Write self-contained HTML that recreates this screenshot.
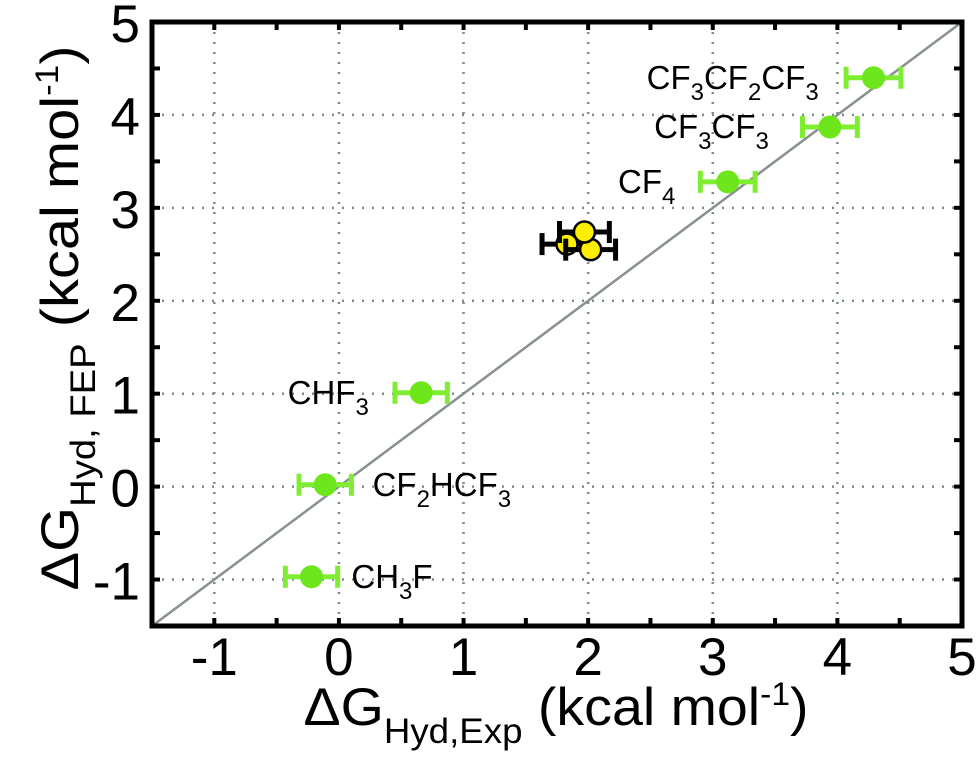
<!DOCTYPE html>
<html><head><meta charset="utf-8"><style>
body{margin:0;background:#fff}
svg{display:block;font-family:"Liberation Sans",Arial,sans-serif}
</style></head><body>
<svg id="chart" width="980" height="780" xmlns="http://www.w3.org/2000/svg"></svg>
<script>
const xTicks=[-1,0,1,2,3,4,5];
const yTicks=[-1,0,1,2,3,4,5];
const greenNames=["CH3F","CF2HCF3","CHF3","CF4","CF3CF3","CF3CF2CF3"];
const greenX=[-0.22,-0.11,0.66,3.12,3.94,4.29];
const greenY=[-0.97,0.02,1.01,3.28,3.87,4.40];
const greenErr=[0.21,0.21,0.21,0.22,0.22,0.22];
const yellowX=[1.83,2.02,1.97];
const yellowY=[2.61,2.55,2.74];
const yellowErr=[0.2,0.2,0.2];
const S='font-size="24" dy="11"', U='dy="-11"';
const labelsHTML=[
 {t:'CH<tspan '+S+'>3</tspan><tspan '+U+'>F</tspan>',x:0.1,y:-0.97,a:"start"},
 {t:'CF<tspan '+S+'>2</tspan><tspan '+U+'>HCF</tspan><tspan '+S+'>3</tspan>',x:0.27,y:0.02,a:"start"},
 {t:'CHF<tspan '+S+'>3</tspan>',x:0.24,y:1.01,a:"end"},
 {t:'CF<tspan '+S+'>4</tspan>',x:2.7,y:3.28,a:"end"},
 {t:'CF<tspan '+S+'>3</tspan><tspan '+U+'>CF</tspan><tspan '+S+'>3</tspan>',x:3.45,y:3.87,a:"end"},
 {t:'CF<tspan '+S+'>3</tspan><tspan '+U+'>CF</tspan><tspan '+S+'>2</tspan><tspan '+U+'>CF</tspan><tspan '+S+'>3</tspan>',x:3.85,y:4.40,a:"end"}
];
const X0=-1.5,X1=5,Y0=-1.5,Y1=5;
const L=152,R=962,T=22,B=626;
const sx=v=>L+(v-X0)/(X1-X0)*(R-L);
const sy=v=>B-(v-Y0)/(Y1-Y0)*(B-T);
const svg=document.getElementById('chart');
const NS="http://www.w3.org/2000/svg";
function mk(tag,attrs,parent){const e=document.createElementNS(NS,tag);for(const k in attrs)e.setAttribute(k,attrs[k]);(parent||svg).appendChild(e);return e;}
xTicks.forEach(v=>{if(v<X1){const g=mk('line',{x1:sx(v),x2:sx(v),y1:T,y2:B,stroke:'#7f8c8c','stroke-width':2.5,'stroke-dasharray':'2 8'});

}});
yTicks.forEach(v=>{if(v<Y1){const g=mk('line',{x1:L,x2:R,y1:sy(v),y2:sy(v),stroke:'#7f8c8c','stroke-width':2.5,'stroke-dasharray':'2 8'});

}});
const d=mk('line',{x1:sx(X0),y1:sy(Y0),x2:sx(X1),y2:sy(Y1),stroke:'#889090','stroke-width':2.5});


const fr=mk('rect',{x:L,y:T,width:R-L,height:B-T,fill:'none',stroke:'#000','stroke-width':5});


[-1,-0.5,0,0.5,1,1.5,2,2.5,3,3.5,4,4.5].forEach(v=>{mk('line',{x1:sx(v),x2:sx(v),y1:B,y2:B-8,stroke:'#000','stroke-width':4});mk('line',{x1:sx(v),x2:sx(v),y1:T,y2:T+8,stroke:'#000','stroke-width':4});
mk('line',{x1:L,x2:L+8,y1:sy(v),y2:sy(v),stroke:'#000','stroke-width':4});mk('line',{x1:R,x2:R-8,y1:sy(v),y2:sy(v),stroke:'#000','stroke-width':4});});
xTicks.forEach(v=>{const t=mk('text',{x:sx(v),y:675,'font-size':53,'text-anchor':'middle'});t.textContent=v;

});
yTicks.forEach(v=>{const t=mk('text',{x:L-12,y:sy(v)+20,'font-size':53,'text-anchor':'end'});t.textContent=v;

});
function point(x,y,e,fill,ebc,stroke,name){
 const g=mk('g',{});
 
 
 const cy=sy(y),a=sx(x-e),b=sx(x+e);
 mk('line',{x1:a,x2:b,y1:cy,y2:cy,stroke:ebc,'stroke-width':5},g);
 mk('line',{x1:a,x2:a,y1:cy-11,y2:cy+11,stroke:ebc,'stroke-width':5},g);
 mk('line',{x1:b,x2:b,y1:cy-11,y2:cy+11,stroke:ebc,'stroke-width':5},g);
 mk('circle',{cx:sx(x),cy:cy,r:stroke?10.5:11.5,fill:fill,stroke:stroke||'none','stroke-width':2.5},g);
}
greenX.forEach((x,i)=>point(x,greenY[i],greenErr[i],'#6ee61c','#7fee33',null,'point-'+greenNames[i].toLowerCase()));
yellowX.forEach((x,i)=>point(x,yellowY[i],yellowErr[i],'#ffee00','#000','#000','yellow-point'));
labelsHTML.forEach(l=>{const t=mk('text',{x:sx(l.x),y:sy(l.y)+11,'font-size':33,'text-anchor':l.a});t.innerHTML=l.t;

});
</script>
<svg style="position:absolute;left:0;top:0" width="980" height="780" xmlns="http://www.w3.org/2000/svg" font-family="Liberation Sans, Arial, sans-serif">
<text x="556" y="725" font-size="53" text-anchor="middle" textLength="505" lengthAdjust="spacingAndGlyphs">ΔG<tspan font-size="35" dy="18">Hyd,Exp</tspan><tspan dy="-18"> (kcal mol</tspan><tspan font-size="32" dy="-20">-1</tspan><tspan dy="20">)</tspan></text>
<text transform="translate(78,318) rotate(-90)" font-size="53" text-anchor="middle" textLength="545" lengthAdjust="spacingAndGlyphs">ΔG<tspan font-size="35" dy="17">Hyd, FEP</tspan><tspan dy="-17"> (kcal mol</tspan><tspan font-size="32" dy="-20">-1</tspan><tspan dy="20">)</tspan></text>
</svg>
</body></html>
